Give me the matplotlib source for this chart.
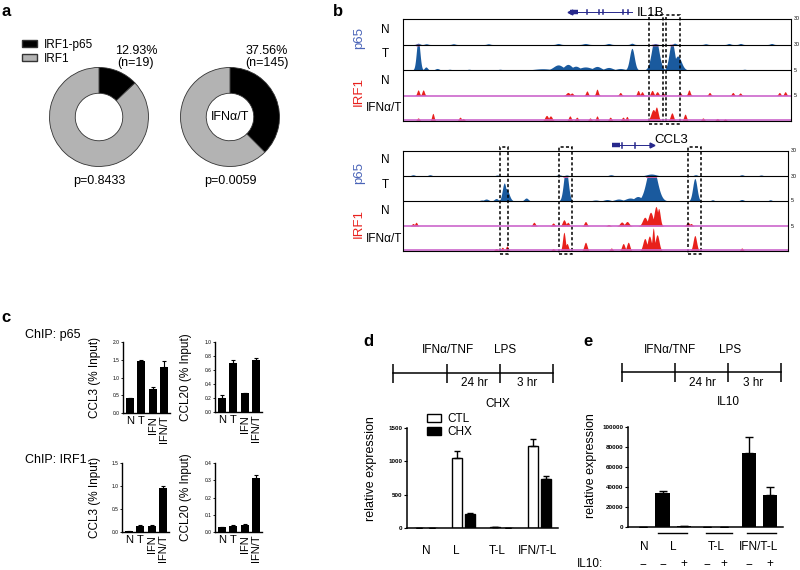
import numpy as np
import matplotlib
matplotlib.use("Agg")
import matplotlib.pyplot as plt
from matplotlib.patches import Rectangle, Patch
from matplotlib.ticker import FormatStrFormatter
from matplotlib.transforms import blended_transform_factory

plt.rcParams['font.family'] = ['Liberation Sans', 'DejaVu Sans']

W, H = 800, 570

# ==== a: donut data ====
pie_labels = ["IRF1-p65", "IRF1"]
pie_n = [12.93, 87.07]
pie_ifnt = [37.56, 62.44]
pie_pct = ["12.93%\n(n=19)", "37.56%\n(n=145)"]
pie_pvals = ["p=0.8433", "p=0.0059"]

# ==== b: genome tracks, peaks as (position 0-100, height in row units, width) ====
il1b_p65_n = [(3.9, .05, .4), (6, .03, .4), (13, .03, .4), (22, .03, .4), (40, .04, .5), (47, .04, .6),
              (53, .04, .5), (59, .05, .4), (65, .04, .4), (70, .05, .4), (78, .03, .4), (84, .04, .4),
              (87, .04, .4), (95, .04, .4)]
il1b_p65_t = [(3.9, 1.2, .45), (5.9, .12, .4), (8.8, .06, .5), (12, .03, .5), (17, .03, .5), (25, .03, .5),
              (36, .05, 2), (40, .2, 1.2), (42.5, .22, 1.0), (44.5, .15, 1.0), (47, .12, 1.5), (50, .14, 1.0),
              (53, .1, 1.0), (56, .06, 1), (59, .85, .6), (65, 1.3, .9), (69.3, 1.1, .7), (70.8, .55, .9),
              (88, .03, .5)]
il1b_irf1_n = [(3.9, .22, .3), (5.2, .22, .3), (42.5, .12, .45), (43.5, .1, .35), (47.4, .18, .3),
               (50, .25, .3), (56, .12, .3), (60.6, .2, .3), (61.6, .15, .3), (64.2, .2, .35),
               (65.5, .15, .35), (67, .1, .35), (71.4, .12, .3), (73.7, .22, .3), (79, .12, .3),
               (85, .12, .3), (86.9, .1, .3), (97, .12, .3), (98.5, .15, .3)]
il1b_irf1_ifnt = [(3.9, .12, .35), (7.7, .3, .3), (14.7, .15, .35), (15.5, .1, .35), (37, .22, .45),
                  (38, .2, .45), (43, .2, .35), (44.8, .15, .35), (48.2, .12, .35), (50, .2, .3),
                  (53.4, .15, .35), (56.7, .15, .35), (57.7, .18, .3), (64.5, .45, .6), (65.3, .55, .45),
                  (69.3, .32, .4), (72.7, .27, .35), (77.3, .12, .35), (81, .1, .35), (83, .08, .35)]
ccl3_p65_n = [(2.6, .05, .5), (7, .05, .5), (24.5, .04, .5), (40.5, .05, .6), (42.5, .04, .5), (54, .05, .6),
              (64.5, .08, 1.2), (76, .05, .5), (88, .05, .5), (93, .04, .5)]
ccl3_p65_t = [(20.5, .04, .6), (21.6, .08, .6), (24.2, .1, .5), (26.3, .72, .5), (26.8, .5, .7), (32, .12, .5),
              (42.3, 1.3, .6), (50, .04, .8), (53, .06, .8), (56, .08, 1.0), (59, .12, 1.2), (61, .18, 1),
              (64.6, 1.5, 1.3), (75.8, .9, .55), (80.4, .05, .4), (88, .06, .5), (95.4, .05, .4)]
ccl3_irf1_n = [(2.6, .1, .35), (3.4, .15, .3), (34, .15, .35), (39, .12, .35), (41.8, .25, .4), (42.8, .15, .35),
               (47.4, .18, .35), (53.4, .06, .35), (56.8, .16, .5), (58.2, .18, .5), (62.8, .35, .6),
               (64.3, .55, .6), (65.7, .78, .5), (66.4, .7, .4), (74, .15, .4), (74.8, .1, .35)]
ccl3_irf1_ifnt = [(24.2, .1, .4), (25.8, .15, .35), (27, .2, .35), (39, .1, .35), (41.8, .75, .35),
                  (42.6, .3, .35), (47.4, .35, .4), (54.1, .12, .35), (57.2, .3, .4), (58.5, .35, .4),
                  (62.8, .5, .5), (64, .6, .5), (65, .92, .3), (66, .65, .5), (75.8, .62, .45), (88, .12, .35)]
il1b_boxes = [(63.4, 67.0), (67.8, 71.4)]
ccl3_boxes = [(25.3, 27.3), (40.5, 43.8), (74.0, 77.3)]
track_names = ["N", "T", "N", "IFN\u03b1/T"]
track_scales = ["30", "30", "5", "5"]

# ==== c: ChIP data ====
chip_cats = ["N", "T", "IFN", "IFN/T"]
p65_ccl3 = [0.43, 1.47, 0.68, 1.30]
p65_ccl3_err = [0.0, 0.02, 0.05, 0.17]
p65_ccl20 = [0.20, 0.70, 0.27, 0.74]
p65_ccl20_err = [0.05, 0.05, 0.0, 0.03]
irf1_ccl3 = [0.03, 0.13, 0.12, 0.95]
irf1_ccl3_err = [0.0, 0.03, 0.04, 0.04]
irf1_ccl20 = [0.030, 0.036, 0.042, 0.315]
irf1_ccl20_err = [0.0, 0.003, 0.003, 0.015]

# ==== d: CHX data ====
d_cats = ["N", "L", "T-L", "IFN/T-L"]
d_ctl = [0, 1050, 10, 1230]
d_ctl_err = [0, 100, 0, 100]
d_chx = [0, 215, 0, 730]
d_chx_err = [0, 8, 0, 50]

# ==== e: IL10 data ====
e_vals = [0, 34000, 1500, 0, 0, 74000, 32500]
e_err = [0, 2000, 0, 0, 0, 16000, 7500]
e_il10 = ["\u2212", "\u2212", "+", "\u2212", "+", "\u2212", "+"]
e_groups = ["N", "L", "T-L", "IFN/T-L"]

P65_BLUE = "#1a5a9e"
IRF1_RED = "#e8201c"
GENE_BLUE = "#27288c"


def rect(x0, y0, x1, y1):
    return [x0 / W, 1 - y1 / H, (x1 - x0) / W, (y1 - y0) / H]


fig = plt.figure(figsize=(8, 5.7), dpi=100)
ov = fig.add_axes([0, 0, 1, 1], zorder=10)
ov.set_xlim(0, W)
ov.set_ylim(H, 0)
ov.set_axis_off()

# panel letters
for letter, (lx, ly) in zip("abcde", [(1, 12), (333, 12), (1, 317), (363, 341), (583, 341)]):
    ov.text(lx, ly, letter, fontsize=12, fontweight='bold', va='center', ha='left')

# ==== a ====
for vals, cx, pct, pv, label in zip([pie_n, pie_ifnt], [99, 230], pie_pct, pie_pvals, ["", "IFN\u03b1/T"]):
    ax = fig.add_axes(rect(cx - 50, 67, cx + 50, 167))
    ax.pie(vals, colors=['black', '#b3b3b3'], startangle=90, counterclock=False, radius=1,
           wedgeprops=dict(width=0.52, edgecolor='#333333', linewidth=0.6))
    ax.set_xlim(-1.01, 1.01)
    ax.set_ylim(-1.01, 1.01)
    ov.text(cx + 37, 57, pct, fontsize=9, ha='center', va='center', linespacing=1.0)
    ov.text(cx, 181, pv, fontsize=9, ha='center', va='center')
    if label:
        ov.text(cx, 117, label, fontsize=9, ha='center', va='center')
ov.legend(handles=[Patch(facecolor='black', edgecolor='#333333'), Patch(facecolor='#b3b3b3', edgecolor='#333333')],
          labels=pie_labels, loc='upper left', bbox_to_anchor=(16, 33), bbox_transform=ov.transData,
          frameon=False, fontsize=8.5, handlelength=1.3, handleheight=0.6, labelspacing=0.15,
          borderpad=0, handletextpad=0.6)


# ==== b ====
def draw_tracks(box, rows, boxes, gene, gene_name, name_y, group_y, gene_label_x):
    ax = fig.add_axes(rect(*box))
    x = np.linspace(0, 100, 2000)
    colors = [P65_BLUE, P65_BLUE, IRF1_RED, IRF1_RED]
    bases = [3, 2, 1, 0]
    for peaks, color, base in zip(rows, colors, bases):
        sig = np.zeros_like(x)
        for c, h, w in peaks:
            sig = np.maximum(sig, h * np.exp(-0.5 * ((x - c) / w) ** 2))
        ax.fill_between(x, base, base + np.minimum(sig, 0.96), color=color, lw=0)
        cap = np.where(sig > 0.96, base + 0.96, np.nan)
        ax.plot(x, cap, color='#e060b0', lw=1.2)
    ax.axhline(3, color='black', lw=0.8)
    ax.axhline(2, color='black', lw=0.8)
    ax.axhline(1, color='#cc66cc', lw=1.2)
    ax.axhline(0.03, color='#cc66cc', lw=1.2)
    ax.set_xlim(0, 100)
    ax.set_ylim(0, 4)
    ax.set_xticks([])
    ax.set_yticks([])
    for s in ax.spines.values():
        s.set_linewidth(0.8)
    for x0, x1 in boxes:
        ax.add_patch(Rectangle((x0, -0.12), x1 - x0, 4.28, fill=False, ls=(0, (2, 1.5)), lw=1.1,
                               ec='black', clip_on=False))
    for yy, s in zip([4, 3, 2, 1], track_scales):
        ax.text(100.8, yy, s, fontsize=3.8, va='center', ha='left')
    # gene model
    gy, g0, g1, block, exons, direction = gene
    ax.plot([g0, g1], [gy, gy], color=GENE_BLUE, lw=0.7, clip_on=False)
    ax.plot(block, [gy, gy], color=GENE_BLUE, lw=3.2, clip_on=False, solid_capstyle='butt')
    for e in exons:
        ax.plot([e, e], [gy - 0.09, gy + 0.09], color=GENE_BLUE, lw=1.1, clip_on=False)
    tip = g0 if direction < 0 else g1
    ax.plot([tip], [gy], marker='<' if direction < 0 else '>', color=GENE_BLUE, ms=3.5, clip_on=False)
    ov.text(gene_label_x, name_y[4], gene_name, fontsize=9.5, ha='center', va='center')
    # row labels
    for yy, nm in zip(name_y[:4], track_names):
        if nm == "N" or nm == "T":
            ov.text(385, yy, nm, fontsize=8.5, ha='center', va='center')
        else:
            ov.text(402, yy, nm, fontsize=8.5, ha='right', va='center')
    ov.text(359, group_y[0], "p65", fontsize=9.5, color='#4a64b8', rotation=90, ha='center', va='center')
    ov.text(359, group_y[1], "IRF1", fontsize=9.5, color=IRF1_RED, rotation=90, ha='center', va='center')


draw_tracks((403, 19, 791, 121), [il1b_p65_n, il1b_p65_t, il1b_irf1_n, il1b_irf1_ifnt], il1b_boxes,
            (4.28, 43, 59, [43, 45], [47.3, 50.6, 51.5, 56.7, 58], -1), "IL1B",
            [30, 54, 81, 108, 13], [38, 92], 650)
draw_tracks((403, 151, 788, 251), [ccl3_p65_n, ccl3_p65_t, ccl3_irf1_n, ccl3_irf1_ifnt], ccl3_boxes,
            (4.23, 54.3, 64.7, [54.3, 56.4], [57, 60.3], 1), "CCL3",
            [160, 185, 211, 239, 140], [173, 223], 671)


# ==== c ====
def draw_chip(box, vals, errs, ymax, step, ylabel, lab_x):
    ax = fig.add_axes(rect(*box))
    xs = np.arange(len(chip_cats))
    ax.bar(xs, vals, 0.7, color='black')
    ax.errorbar(xs, vals, yerr=[np.zeros(len(errs)), errs], fmt='none', ecolor='black',
                elinewidth=0.8, capsize=1.5, capthick=0.8)
    ax.set_xlim(-0.6, 3.5)
    ax.set_ylim(0, ymax)
    ax.set_yticks(np.arange(0, ymax + step / 2, step))
    ax.yaxis.set_major_formatter(FormatStrFormatter('%.1f'))
    ax.tick_params(axis='y', labelsize=3.5, length=1.5, width=0.6, pad=0.8)
    ax.set_xticks(xs)
    ax.set_xticklabels(chip_cats, fontsize=8)
    ax.tick_params(axis='x', length=0, pad=2)
    for lbl in ax.get_xticklabels()[2:]:
        lbl.set_rotation(90)
    for s in ['top', 'right']:
        ax.spines[s].set_visible(False)
    for s in ['left', 'bottom']:
        ax.spines[s].set_linewidth(1.0)
    ax.set_ylabel(ylabel, fontsize=8.5)
    ax.yaxis.set_label_coords((lab_x - box[0]) / (box[2] - box[0]), 0.5)


ov.text(25, 335, "ChIP: p65", fontsize=9, va='center')
ov.text(25, 460, "ChIP: IRF1", fontsize=9, va='center')
draw_chip((123, 342, 170, 413), p65_ccl3, p65_ccl3_err, 2.0, 0.5, "CCL3 (% Input)", 101)
draw_chip((215, 342, 262, 412), p65_ccl20, p65_ccl20_err, 1.0, 0.2, "CCL20 (% Input)", 192)
draw_chip((122, 463, 169, 532), irf1_ccl3, irf1_ccl3_err, 1.5, 0.5, "CCL3 (% Input)", 101)
draw_chip((215, 463, 262, 532), irf1_ccl20, irf1_ccl20_err, 0.4, 0.1, "CCL20 (% Input)", 192)


# ==== timelines ====
def timeline(xs, y, treat, lps_x, treat_x, hr24_x, hr3_x, extra, extra_x, extra_y):
    ov.plot([xs[0], xs[-1]], [y, y], color='black', lw=1.1)
    ov.vlines(xs, y - 9, y + 10, color='black', lw=1.1)
    ov.text(treat_x, 350, treat, fontsize=8.5, ha='center', va='center')
    ov.text(lps_x, 350, "LPS", fontsize=8.5, ha='center', va='center')
    ov.text(hr24_x, 383, "24 hr", fontsize=8.5, ha='center', va='center')
    ov.text(hr3_x, 383, "3 hr", fontsize=8.5, ha='center', va='center')
    ov.text(extra_x, extra_y, extra, fontsize=8.5, ha='center', va='center')


timeline([393, 447, 500, 553], 373, "IFN\u03b1/TNF", 505, 448, 474, 527, "CHX", 498, 404)
timeline([622, 675, 728, 781], 372, "IFN\u03b1/TNF", 730, 670, 702, 753, "IL10", 728, 402)

# ==== d ====
ax = fig.add_axes(rect(407, 428, 558, 528))
g = np.arange(len(d_cats))
ax.bar(g - 0.17, d_ctl, 0.265, color='white', edgecolor='black', lw=1.0, label="CTL")
ax.bar(g + 0.17, d_chx, 0.265, color='black', edgecolor='black', lw=1.0, label="CHX")
ax.errorbar(g - 0.17, d_ctl, yerr=[np.zeros(4), d_ctl_err], fmt='none', ecolor='black', elinewidth=1,
            capsize=2.5, capthick=1)
ax.errorbar(g + 0.17, d_chx, yerr=[np.zeros(4), d_chx_err], fmt='none', ecolor='black', elinewidth=1,
            capsize=2.5, capthick=1)
ax.set_xlim(-0.5, 3.5)
ax.set_ylim(0, 1500)
ax.set_yticks([0, 500, 1000, 1500])
ax.tick_params(axis='y', labelsize=4.5, length=2.5, width=0.8, pad=0.8)
for lbl in ax.get_yticklabels():
    lbl.set_fontweight('bold')
ax.set_xticks(g + np.array([0.0, -0.2, -0.12, -0.05]))
ax.set_xticklabels(d_cats, fontsize=8.5)
ax.tick_params(axis='x', length=0, pad=12)
for s in ['top', 'right']:
    ax.spines[s].set_visible(False)
for s in ['left', 'bottom']:
    ax.spines[s].set_linewidth(1.1)
ax.set_ylabel("relative expression", fontsize=9)
ax.yaxis.set_label_coords((377 - 407) / 151, 0.59)
ax.legend(loc='upper left', bbox_to_anchor=(421, 407), bbox_transform=ov.transData, frameon=False,
          fontsize=8.5, handlelength=1.2, handleheight=0.7, labelspacing=0.1, borderpad=0,
          handletextpad=0.5)

# ==== e ====
ax = fig.add_axes(rect(628, 427, 783, 527))
pos = np.array([0, 0.9, 1.9, 3.0, 3.8, 4.95, 5.95])
ax.bar(pos, e_vals, 0.68, color='black')
ax.errorbar(pos, e_vals, yerr=[np.zeros(len(e_err)), e_err], fmt='none', ecolor='black', elinewidth=1,
            capsize=3, capthick=1)
ax.set_xlim(-0.72, 6.55)
ax.set_ylim(0, 100000)
ax.set_yticks(np.arange(0, 100001, 20000))
ax.tick_params(axis='y', labelsize=4.5, length=2.5, width=0.8, pad=0.8)
for lbl in ax.get_yticklabels():
    lbl.set_fontweight('bold')
ax.set_xticks([])
for s in ['top', 'right']:
    ax.spines[s].set_visible(False)
for s in ['left', 'bottom']:
    ax.spines[s].set_linewidth(1.1)
ax.set_ylabel("relative expression", fontsize=9)
ax.yaxis.set_label_coords((597 - 628) / 155, 0.61)
bt = blended_transform_factory(ax.transData, ov.transData)
for xx, s in zip(pos, e_il10):
    ax.text(xx, 564, s, transform=bt, fontsize=8.5, ha='center', va='center', clip_on=False)
ov.text(577, 564, "IL10:", fontsize=8.5, ha='left', va='center')
for (x0, x1), gx, nm in zip([(None, None), (0.7, 2.05), (2.95, 4.15), (4.85, 6.2)],
                            [0.05, 1.4, 3.4, 5.4], e_groups):
    if x0 is not None:
        ax.plot([x0, x1], [533, 533], transform=bt, color='black', lw=1.0, clip_on=False)
    ax.text(gx, 547, nm, transform=bt, fontsize=8.5, ha='center', va='center', clip_on=False)

fig.savefig("out.png", dpi=100)
